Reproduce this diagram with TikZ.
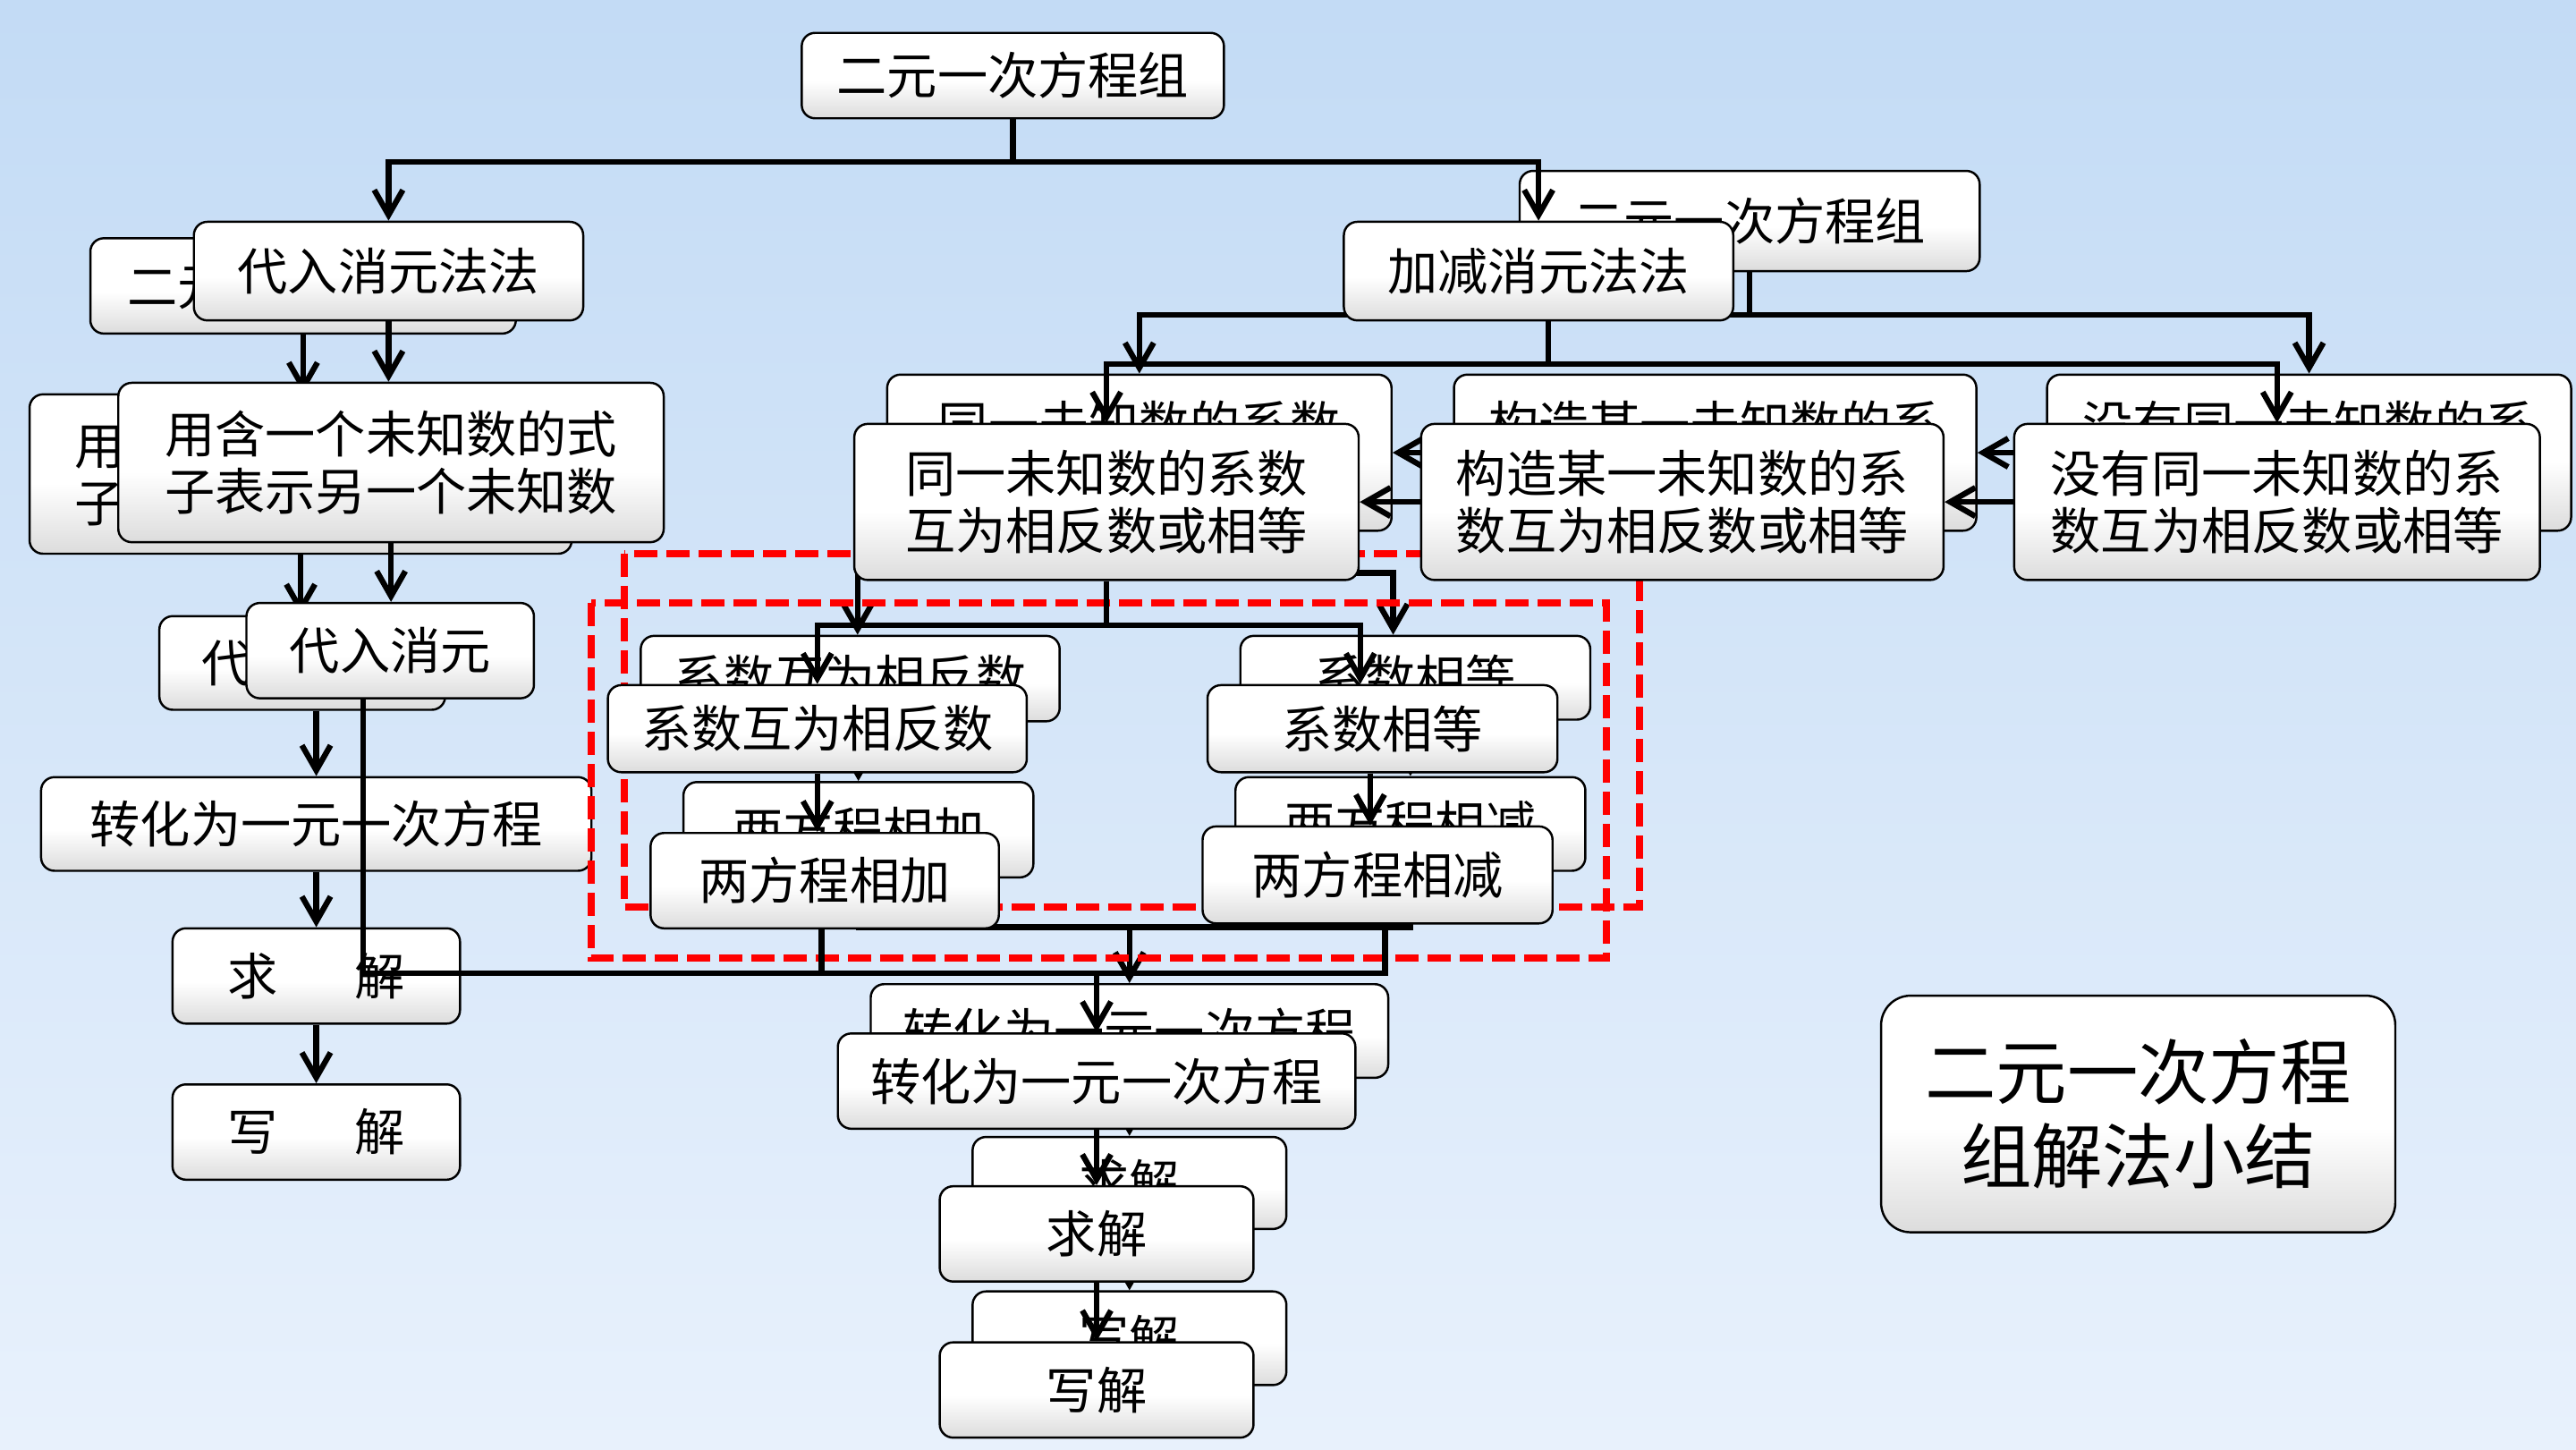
\documentclass[tikz,border=0pt]{standalone}
\usepackage{fontspec}
\setmainfont{Noto Sans CJK SC}
\usetikzlibrary{arrows.meta,calc}
\newcommand{\pxu}{0.018367cm}
\definecolor{bgtop}{RGB}{195,219,245}
\definecolor{bgbot}{RGB}{232,241,252}
\definecolor{boxbot}{RGB}{220,220,220}
\pgfdeclareverticalshading{boxshade}{100bp}{color(0bp)=(boxbot); color(25bp)=(boxbot); color(47bp)=(white); color(100bp)=(white)}

\begin{document}
\begin{tikzpicture}[x=\pxu, y=-\pxu,
  ebox/.style={draw, shade, shading=boxshade, rounded corners=0.15cm, line width=0.7pt, align=center, inner sep=0pt, font=\fontsize{16}{18.2}\selectfont},
  sz/.style 2 args={minimum width=#1*\pxu, minimum height=#2*\pxu},
  arr/.style={-{Straight Barb[length=0.28cm,width=0.32cm]}, line width=1.8pt},
  lin/.style={line width=1.8pt},
  redbox/.style={draw=red, line width=0.08cm, dash pattern=on 0.26cm off 0.1cm}
]
\useasboundingbox (0,0) rectangle (1568,882);
\shade[top color=bgtop, bottom color=bgbot] (0,0) rectangle (1568,882);

% back copy of the chart
\node[ebox, sz={259}{58}] (gsys) at (184.5,174) {二元一次方程组};
\node[ebox, sz={330}{97}] (gexpr) at (183,288.5) {用含一个未知数的式\\子表示另一个未知数};
\node[ebox, sz={174}{57}] (gsubst) at (184,403.5) {代入消元};
\node[ebox, sz={335}{57}] (toone) at (192.5,501.5) {转化为一元一次方程};
\node[ebox, sz={175}{58}] (solveL) at (192.5,594) {求\hspace{1.54em}解};
\node[ebox, sz={175}{58}] (writeL) at (192.5,689) {写\hspace{1.54em}解};
\node[ebox, sz={280}{61}] (gsys2) at (1065,134.5) {二元一次方程组};
\node[ebox, sz={307}{95}] (gsame) at (693.5,275.5) {同一未知数的系数\\互为相反数或相等};
\node[ebox, sz={318}{95}] (gmake) at (1044,275.5) {构造某一未知数的系\\数互为相反数或相等};
\node[ebox, sz={319}{95}] (gnone) at (1405.5,275.5) {没有同一未知数的系\\数互为相反数或相等};
\node[ebox, sz={255}{52}] (gopp) at (517.5,413) {系数互为相反数};
\node[ebox, sz={213}{51}] (gequ) at (861.5,412.5) {系数相等};
\node[ebox, sz={213}{58}] (gadd) at (522.5,505) {两方程相加};
\node[ebox, sz={213}{57}] (gsub) at (858.5,501.5) {两方程相减};
\node[ebox, sz={315}{57}] (gtone) at (687.5,627.5) {转化为一元一次方程};
\node[ebox, sz={191}{56}] (gsolve) at (687.5,720) {求解};
\node[ebox, sz={191}{57}] (gwrite) at (687.5,814.5) {写解};

\draw[arr] (gsys.south) -- (gsys.south |- gexpr.north);
\draw[arr] (gexpr.south) -- (gexpr.south |- gsubst.north);
\draw[arr] (gsubst.south -| toone.north) -- (toone.north);
\draw[arr] (toone) -- (solveL);
\draw[arr] (solveL) -- (writeL);
\draw[lin] (gsys2.south) -- ++(0,26) coordinate (gfork);
\draw[arr] (gfork) -| (gsame.north);
\draw[arr] (gfork) -| (gnone.north);
\draw[arr] (gmake.west) -- (gmake.west -| gsame.east);
\draw[arr] (gnone.west) -- (gnone.west -| gmake.east);
\draw[lin] (gsame.south) -- ++(0,25) coordinate (gfork2);
\draw[arr] (gfork2) -| ($(gopp.north)+(4.5,0)$);
\draw[arr] (gfork2) -| ($(gequ.north)+(-13.5,0)$);
\draw[arr] (gopp.south -| gadd.north) -- (gadd.north);
\draw[arr] (gequ.south -| gsub.north) -- (gsub.north);
\coordinate (gjoin) at ($(gtone.north)+(0,-34)$);
\draw[lin] (gadd.south) |- (gjoin);
\draw[lin] (gsub.south) |- (gjoin);
\draw[arr] (gjoin) -- (gtone.north);
\draw[arr] (gtone) -- (gsolve);
\draw[arr] (gsolve) -- (gwrite);

% dashed frames
\draw[redbox] (380,337) rectangle (998,552);
\draw[redbox] (360,367) rectangle (978,583);

% front copy
\node[ebox, sz={257}{52}] (sys) at (616.5,46) {二元一次方程组};
\node[ebox, sz={237}{60}] (subm) at (236.5,165) {代入消元法法};
\node[ebox, sz={332}{97}] (expr) at (238,281.5) {用含一个未知数的式\\子表示另一个未知数};
\node[ebox, sz={175}{58}] (subst) at (237.5,396) {代入消元};
\node[ebox, sz={237}{60}] (elim) at (936.5,165) {加减消元法法};
\node[ebox, sz={307}{95}] (same) at (673.5,305.5) {同一未知数的系数\\互为相反数或相等};
\node[ebox, sz={318}{95}] (make) at (1024,305.5) {构造某一未知数的系\\数互为相反数或相等};
\node[ebox, sz={320}{95}] (none) at (1386,305.5) {没有同一未知数的系\\数互为相反数或相等};
\node[ebox, sz={255}{53}] (opp) at (497.5,443.5) {系数互为相反数};
\node[ebox, sz={213}{53}] (equ) at (841.5,443.5) {系数相等};
\node[ebox, sz={212}{58}] (add) at (502,536) {两方程相加};
\node[ebox, sz={213}{59}] (sub) at (838.5,532.5) {两方程相减};
\node[ebox, sz={315}{58}] (toneR) at (667.5,658) {转化为一元一次方程};
\node[ebox, sz={191}{58}] (solveR) at (667.5,751) {求解};
\node[ebox, sz={191}{58}] (writeR) at (667.5,846) {写解};

\draw[lin] (sys.south) -- ++(0,26) coordinate (fork);
\draw[arr] (fork) -| (subm.north);
\draw[arr] (fork) -| (elim.north);
\draw[arr] (subm.south) -- (subm.south |- expr.north);
\draw[arr] (expr.south) -- (expr.south |- subst.north);
\draw[lin] ($(elim.south)+(6,0)$) -- ++(0,26) coordinate (fork3);
\draw[arr] (fork3) -| (same.north);
\draw[arr] (fork3) -| (none.north);
\draw[arr] (make.west) -- (make.west -| same.east);
\draw[arr] (none.west) -- (none.west -| make.east);
\draw[lin] (same.south) -- ++(0,27) coordinate (fork4);
\draw[arr] (fork4) -| (opp.north);
\draw[arr] (fork4) -| ($(equ.north)+(-13.5,0)$);
\draw[arr] (opp.south) -- (opp.south |- add.north);
\draw[arr] ($(equ.south)+(-7.5,0)$) -- ($(sub.north)+(-4.5,0)$);
\coordinate (join) at ($(toneR.north)+(0,-36)$);
\draw[lin] ($(subst.south)+(-16.5,0)$) |- (join);
\draw[lin] ($(add.south)+(-2,0)$) |- (join);
\draw[lin] ($(sub.south)+(4.5,0)$) |- (join);
\draw[arr] (join) -- (toneR.north);
\draw[arr] (toneR) -- (solveR);
\draw[arr] (solveR) -- (writeR);

\node[ebox, sz={313}{144}, rounded corners=0.33cm, font=\fontsize{22.6}{26.7}\selectfont] (summary) at (1301.5,678) {二元一次方程\\组解法小结};
\end{tikzpicture}
\end{document}
